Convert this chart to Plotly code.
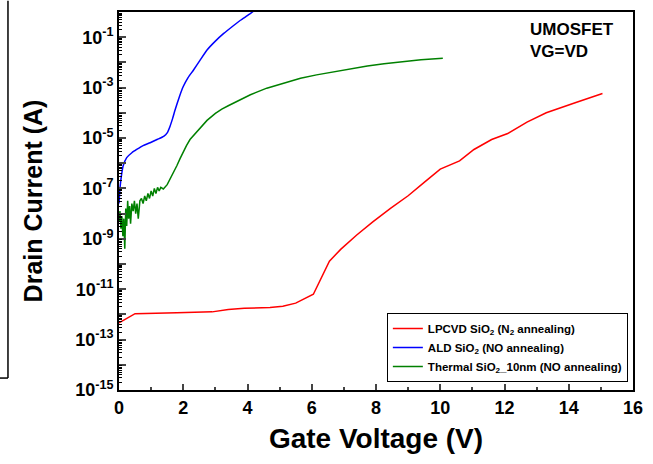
import plotly.graph_objects as go

# ---- data ----
lpcvd_v = [0, 0.5, 1.8, 2.9, 3.4, 3.9, 4.7, 5.1, 5.5, 6.05, 6.55, 6.9, 7.4, 7.9, 8.45, 9.0,
           9.5, 10.0, 10.6, 11.05, 11.6, 12.1, 12.7, 13.3, 14.2, 15.05]
lpcvd_i = [4.6e-13, 1.07e-12, 1.15e-12, 1.26e-12, 1.55e-12, 1.74e-12, 1.9e-12, 2.1e-12,
           2.8e-12, 6.3e-12, 1.3e-10, 3.8e-10, 1.41e-9, 4.7e-9, 1.6e-8, 5.1e-8,
           1.74e-7, 5.8e-7, 1.23e-6, 3.5e-6, 8.7e-6, 1.5e-5, 4.3e-5, 1.0e-4, 2.5e-4, 5.8e-4]

ald_v = [0, 0.03, 0.08, 0.13, 0.24, 0.4, 0.55, 0.75, 0.97, 1.2, 1.39, 1.5, 1.59, 1.67,
         1.75, 1.87, 2.0, 2.15, 2.32, 2.52, 2.74, 3.0, 3.26, 3.52, 3.78, 4.05, 4.3]
ald_i = [2.5e-8, 1e-7, 3.5e-7, 7.9e-7, 1.66e-6, 2.6e-6, 3.5e-6, 5.0e-6, 6.5e-6, 8.9e-6,
         1.17e-5, 1.6e-5, 2.95e-5, 6.0e-5, 1.35e-4, 4.0e-4, 1.1e-3, 2.5e-3, 5e-3, 1.2e-2,
         3.1e-2, 7.0e-2, 0.141, 0.26, 0.47, 0.8, 1.4]

thermal_v = [0, 0.03, 0.06, 0.09, 0.12, 0.15, 0.18, 0.21, 0.24, 0.27, 0.30, 0.33, 0.36,
             0.40, 0.44, 0.48, 0.52, 0.56, 0.60, 0.65, 0.70, 0.75, 0.80, 0.85, 0.90,
             0.95, 1.0, 1.05, 1.1, 1.15, 1.2, 1.25, 1.3, 1.38, 1.5, 1.6, 1.7, 1.8, 1.9,
             2.0, 2.1, 2.21, 2.35, 2.53, 2.74, 3.0, 3.2, 3.4, 3.7, 4.09, 4.6, 5.1, 5.65,
             6.15, 6.68, 7.2, 7.73, 8.25, 8.76, 9.4, 10.08]
thermal_i = [5e-9, 1.26e-8, 2.5e-9, 7.9e-9, 1.26e-9, 6.3e-9, 4e-10, 1.6e-8, 3.2e-9,
             3.2e-8, 6.3e-9, 2e-8, 4e-9, 2.5e-8, 1.26e-8, 3.2e-8, 1e-8, 2.5e-8, 6.3e-9,
             3.2e-8, 4e-8, 2.5e-8, 5e-8, 3.2e-8, 6.3e-8, 4e-8, 7.9e-8, 5e-8, 1e-7,
             6.3e-8, 1.1e-7, 7.9e-8, 1.1e-7, 9.5e-8, 1.41e-7, 2.4e-7, 4.2e-7, 7.9e-7,
             1.51e-6, 2.8e-6, 5.0e-6, 8.7e-6, 1.41e-5, 2.5e-5, 5.0e-5, 9.5e-5, 1.41e-4,
             1.9e-4, 3.0e-4, 5.2e-4, 9.5e-4, 1.51e-3, 2.34e-3, 3.2e-3, 4.3e-3, 5.6e-3,
             7.2e-3, 8.9e-3, 1.07e-2, 1.26e-2, 1.45e-2]

x_ticks = [0, 2, 4, 6, 8, 10, 12, 14, 16]
y_exps = list(range(-15, 1))
y_ticktext = ["10<sup>%d</sup>" % e if e % 2 else "" for e in y_exps]

names = ["LPCVD SiO<sub>2</sub> (N<sub>2</sub> annealing)",
         "ALD SiO<sub>2</sub> (NO annealing)",
         "Thermal SiO<sub>2</sub>_10nm (NO annealing)"]

FONT = "Liberation Sans, Arial, sans-serif"

y_major = [10.0 ** e for e in y_exps]
y_minor = [k * 10.0 ** e for e in range(-15, 0) for k in range(2, 10)]

fig = go.Figure()
fig.add_trace(go.Scatter(x=lpcvd_v, y=lpcvd_i, mode="lines", name=names[0],
                         line=dict(color="#ff0000", width=1.5)))
fig.add_trace(go.Scatter(x=ald_v, y=ald_i, mode="lines", name=names[1],
                         line=dict(color="#0000ff", width=1.5, shape="spline", smoothing=0.5)))
fig.add_trace(go.Scatter(x=thermal_v, y=thermal_i, mode="lines", name=names[2],
                         line=dict(color="#008000", width=1.5)))
# invisible helper trace so the minor-tick overlay axis is drawn
fig.add_trace(go.Scatter(x=[None], y=[None], yaxis="y2", showlegend=False,
                         hoverinfo="skip", mode="lines"))

fig.update_layout(
    width=653, height=464,
    margin=dict(l=119, r=19, t=10, b=74),
    paper_bgcolor="white", plot_bgcolor="white",
    font=dict(family=FONT, color="black"),
    showlegend=True,
    legend=dict(x=0.99, y=0.021, xanchor="right", yanchor="bottom",
                bordercolor="black", borderwidth=1, bgcolor="white",
                font=dict(size=11.5, family=FONT, color="black", weight="bold"),
                tracegroupgap=0, itemwidth=30),
    xaxis=dict(range=[0, 16], tickvals=x_ticks, ticks="inside", ticklen=6, tickwidth=1.5,
               showline=True, linecolor="black", linewidth=2, mirror=True,
               showgrid=False, zeroline=False,
               tickfont=dict(size=18, family=FONT, color="black", weight="bold"),
               minor=dict(dtick=1, ticks="inside", ticklen=3, tickwidth=1.5, showgrid=False),
               title=dict(text="Gate Voltage (V)", standoff=12,
                          font=dict(size=28, family=FONT, color="black", weight="bold"))),
    yaxis=dict(type="log", range=[-15, 0], tickvals=y_major,
               ticktext=y_ticktext, ticks="inside", ticklen=7, tickwidth=1.5,
               showline=True, linecolor="black", linewidth=2, mirror=True,
               showgrid=False, zeroline=False,
               tickfont=dict(size=18, family=FONT, color="black", weight="bold"),
               title=dict(text="Drain Current (A)", standoff=25,
                          font=dict(size=25, family=FONT, color="black", weight="bold"))),
    yaxis2=dict(type="log", range=[-15, 0], overlaying="y", side="left",
                tickvals=y_minor, ticks="inside", ticklen=3, tickwidth=1,
                tickcolor="black", showticklabels=False, showline=False,
                showgrid=False, zeroline=False),
    annotations=[dict(text="<b>UMOSFET<br>VG=VD</b>", xref="paper", yref="paper",
                      x=0.795, y=0.985, xanchor="left", yanchor="top", align="left",
                      showarrow=False, font=dict(size=17, family=FONT, color="black"))],
    shapes=[dict(type="line", xref="paper", yref="paper", x0=-0.216, x1=-0.216,
                 y0=0.0316, y1=1.03, line=dict(color="black", width=1.5)),
            dict(type="line", xref="paper", yref="paper", x0=-0.235, x1=-0.216,
                 y0=0.0316, y1=0.0316, line=dict(color="black", width=1.5))],
)

fig.write_html("out.html")
